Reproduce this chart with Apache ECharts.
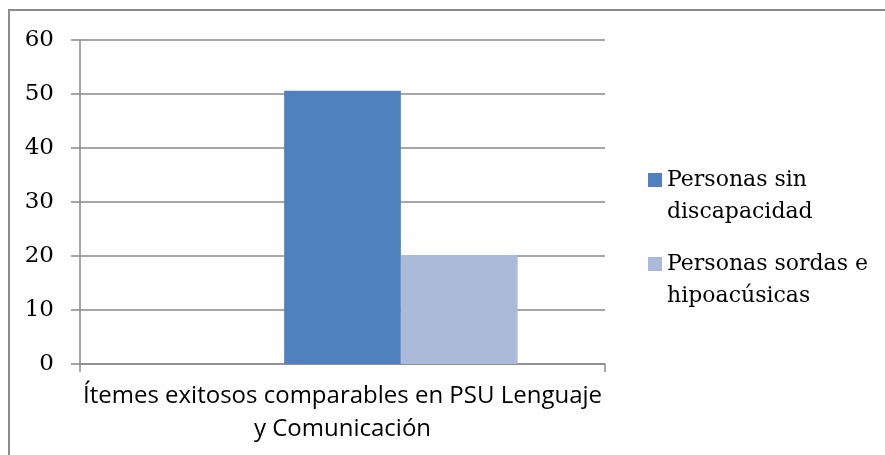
<!DOCTYPE html>
<html>
<head>
<meta charset="utf-8">
<script src="https://cdn.jsdelivr.net/npm/echarts@6/dist/echarts.min.js"></script>
<style>
  html, body { margin: 0; padding: 0; background: #fff; }
  #chart { width: 885px; height: 455px; }
</style>
</head>
<body>
<div id="chart"></div>
<script>
const categories = ['Ítemes exitosos comparables en PSU Lenguaje\ny Comunicación']
const seriesNames = ['Personas sin\ndiscapacidad', 'Personas sordas e\nhipoacúsicas']
// the original chart keeps an empty first slot in the group
const vacio = [null]
const sinDiscapacidad = [50.6]
const sordasHipoacusicas = [20.2]
const colors = ['#4F81BD', '#4F81BD', '#AABAD8']

const gridColor = '#8a8a8a'
const serif = 'DejaVu Serif'

const chart = echarts.init(document.getElementById('chart'))

chart.setOption({
  animation: false,
  color: colors,
  graphic: [{
    type: 'rect',
    shape: { x: 9, y: 10, width: 900, height: 470 },
    style: { fill: 'none', stroke: '#8c8c8c', lineWidth: 2 },
    silent: true,
  }],
  grid: {
    left: 80,
    right: 280,
    top: 40,
    bottom: 91,
  },
  legend: {
    orient: 'vertical',
    left: 648,
    top: 132,
    padding: 0,
    itemWidth: 14,
    itemHeight: 14,
    itemGap: -12,
    icon: 'rect',
    data: seriesNames,
    // blank first line so the marker sits beside the first text line
    formatter: name => '\n' + name,
    textStyle: {
      fontFamily: serif,
      fontSize: 22,
      color: '#000',
      lineHeight: 32,
    },
  },
  xAxis: {
    type: 'category',
    data: categories,
    axisLine: { lineStyle: { color: gridColor, width: 1.5 } },
    axisTick: { show: true, length: 8, lineStyle: { color: gridColor, width: 1.5 } },
    axisLabel: {
      fontFamily: 'Open Sans',
      fontSize: 24,
      color: '#000',
      lineHeight: 33,
      margin: 16,
      align: 'center',
    },
  },
  yAxis: {
    type: 'value',
    min: 0,
    max: 60,
    interval: 10,
    axisLine: { show: true, lineStyle: { color: gridColor, width: 1.5 } },
    axisTick: { show: true, length: 9, lineStyle: { color: gridColor, width: 1.5 } },
    splitLine: { lineStyle: { color: gridColor, width: 1.5 } },
    axisLabel: {
      fontFamily: serif,
      fontSize: 23,
      color: '#000',
      margin: 26,
    },
  },
  series: [
    {
      name: 'vacio',
      type: 'bar',
      data: vacio,
      barGap: 0,
      barCategoryGap: '33.3%',
    },
    {
      name: seriesNames[0],
      type: 'bar',
      data: sinDiscapacidad,
      barGap: 0,
      barCategoryGap: '33.3%',
    },
    {
      name: seriesNames[1],
      type: 'bar',
      data: sordasHipoacusicas,
      barGap: 0,
      barCategoryGap: '33.3%',
    },
  ],
})

window.addEventListener('resize', () => chart.resize())
</script>
</body>
</html>
